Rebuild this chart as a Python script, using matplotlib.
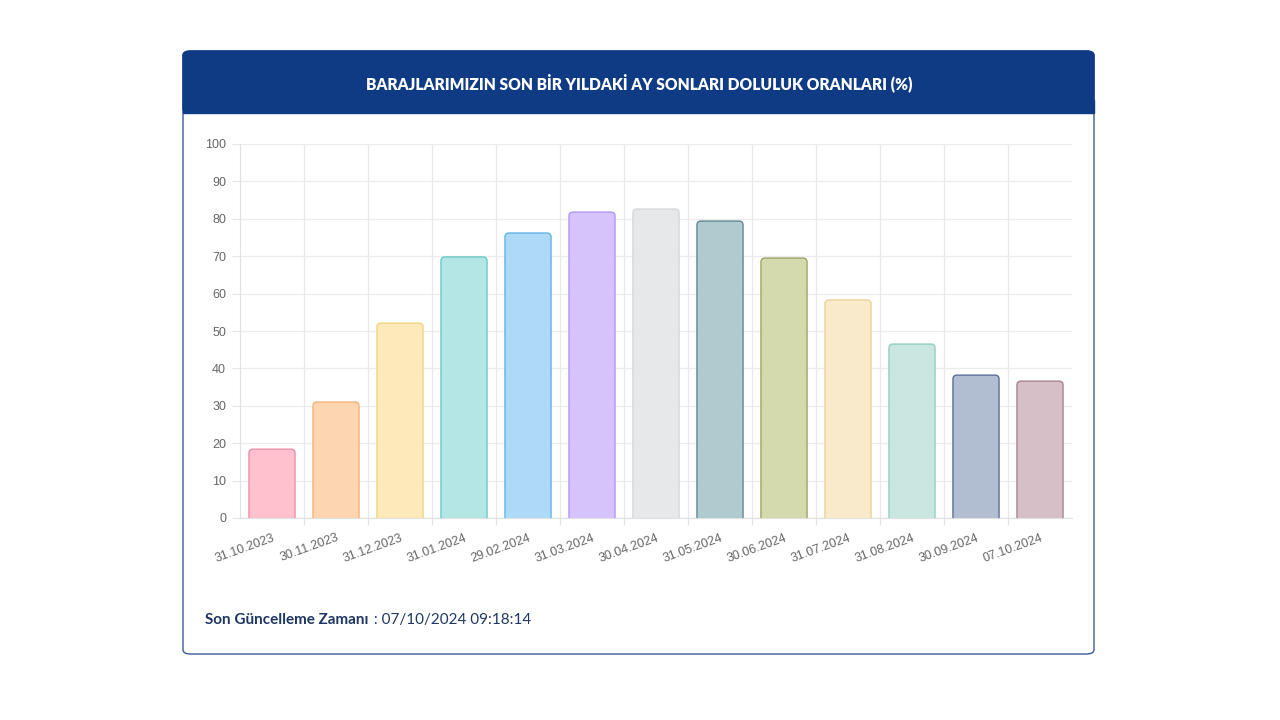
import matplotlib
matplotlib.use("Agg")
import matplotlib.pyplot as plt
from matplotlib.patches import FancyBboxPatch, Rectangle
import numpy as np

dates = ["31.10.2023", "30.11.2023", "31.12.2023", "31.01.2024", "29.02.2024",
         "31.03.2024", "30.04.2024", "31.05.2024", "30.06.2024", "31.07.2024",
         "31.08.2024", "30.09.2024", "07.10.2024"]
values = [18.4, 31.0, 52.1, 69.8, 76.2, 81.8, 82.6, 79.4, 69.5, 58.3, 46.5, 38.2, 36.6]
fills = ["#ffc1ce", "#fdd6b1", "#fde9b9", "#b3e6e4", "#aed9f7", "#d6c3fc",
         "#e7e8ea", "#b0cbd0", "#d5daae", "#f8eaca", "#c9e7e0", "#b1bdd1", "#d7bfc8"]
edges = ["#f08fa6", "#f5b27a", "#f3d37f", "#6ccac6", "#62b3e8", "#b398f2",
         "#d5d6d9", "#5d8a92", "#9da462", "#ead29a", "#94cfc0", "#5c6f95", "#a98492"]
title = "BARAJLARIMIZIN SON BİR YILDAKİ AY SONLARI DOLULUK ORANLARI (%)"
yticks = list(range(0, 101, 10))

plt.rcParams['font.family'] = ['Lato', 'DejaVu Sans']
fig = plt.figure(figsize=(12.8, 7.2), dpi=100)
W, H = 1280, 720

def fx(x): return x / W
def fy(y): return 1 - y / H

# card
card = FancyBboxPatch((fx(183), fy(654)), fx(1094) - fx(183), fy(51) - fy(654),
                      boxstyle="round,pad=0,rounding_size=0.006",
                      transform=fig.transFigure, facecolor="white",
                      edgecolor="#3a5b96", linewidth=1.0, zorder=-3)
fig.patches.append(card)
header = FancyBboxPatch((fx(183), fy(113)), fx(1094) - fx(183), fy(51) - fy(113),
                        boxstyle="round,pad=0,rounding_size=0.006",
                        transform=fig.transFigure, facecolor="#0f3b85",
                        edgecolor="#0f3b85", linewidth=1.0, zorder=-2)
fig.patches.append(header)
fig.patches.append(Rectangle((fx(183), fy(113)), fx(1094) - fx(183), fy(100) - fy(113),
                             transform=fig.transFigure, facecolor="#0f3b85",
                             edgecolor="#0f3b85", linewidth=1.0, zorder=-1))
fig.text(fx(639), fy(83), title, color="white", fontsize=11.2, fontweight="heavy",
         ha="center", va="center", zorder=3)

ax = fig.add_axes([fx(240), fy(518), fx(1072) - fx(240), fy(144) - fy(518)])
ax.set_facecolor("none")
x = np.arange(len(dates))
ax.set_xlim(-0.5, len(dates) - 0.5)
ax.set_ylim(0, 100)
bars = ax.bar(x, values, width=0.72, color=fills, edgecolor=edges, linewidth=1.0, zorder=3)

# replace bars with rounded-corner versions of the same geometry
ppx = ax.get_position().width * W / (len(dates))      # pixels per x unit
ppy = ax.get_position().height * H / 100.0            # pixels per y unit
for b in bars:
    b.set_visible(False)
    x0, w, h = b.get_x(), b.get_width(), b.get_height()
    p = FancyBboxPatch((x0, -3), w, h + 3,
                       boxstyle="round,pad=0,rounding_size=%f" % (4.0 / ppx),
                       mutation_aspect=ppx / ppy,
                       facecolor=b.get_facecolor(), edgecolor=b.get_edgecolor(),
                       linewidth=1.0, zorder=3, clip_on=True)
    ax.add_patch(p)
    p.set_clip_path(ax.patch)

ax.set_yticks(yticks)
ax.set_yticklabels([str(t) for t in yticks], color="#666666", fontsize=9,
                   family="Liberation Sans")
ax.set_xticks(x)
ax.set_xticklabels(dates, rotation=20, ha="right", rotation_mode="anchor",
                   color="#666666", fontsize=9, family="Liberation Sans")
ax.tick_params(axis="x", length=0, pad=10)
ax.tick_params(axis="y", length=6, color="#e6e6e6", pad=4)
for bnd in np.arange(0.5, len(dates) - 1, 1.0):
    ax.axvline(bnd, color="#e8e8e8", linewidth=0.9, zorder=0)
    ax.plot([bnd, bnd], [0, -1.6], color="#e0e0e0", linewidth=0.9, clip_on=False)
ax.grid(axis="y", color="#ececec", linewidth=0.9, zorder=0)
for s in ["top", "right"]:
    ax.spines[s].set_visible(False)
ax.spines["left"].set_color("#e0e0e0")
ax.spines["bottom"].set_color("#e0e0e0")
ax.set_axisbelow(True)

t1 = fig.text(fx(205), fy(620), "Son Güncelleme Zamanı", color="#1f3663",
              fontsize=11, fontweight="bold", ha="left", va="center")
fig.canvas.draw()
bb = t1.get_window_extent()
fig.text(bb.x1 / W + 0.001, fy(620), " : 07/10/2024 09:18:14", color="#1f3663",
         fontsize=11, ha="left", va="center")

fig.savefig("out.png", dpi=100, facecolor="white")
